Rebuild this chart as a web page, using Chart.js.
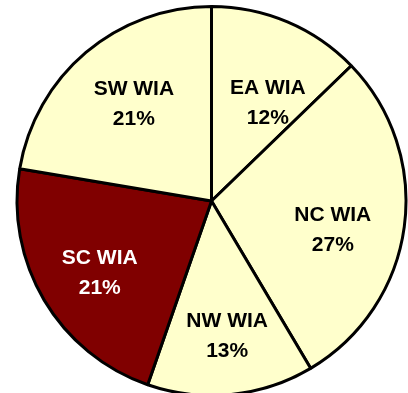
<!DOCTYPE html>
<html>
<head>
<meta charset="utf-8">
<script src="https://cdn.jsdelivr.net/npm/chart.js@4/dist/chart.umd.min.js"></script>
<style>
  html, body { margin: 0; padding: 0; background: #fff; }
  #wrap { width: 408px; height: 393px; }
</style>
</head>
<body>
<div id="wrap"><canvas id="pie"></canvas></div>
<script>
// Share of WIA by region (percent), clockwise from 12 o'clock
const regions = ['EA WIA', 'NC WIA', 'NW WIA', 'SC WIA', 'SW WIA'];
const shares = [12, 27, 13, 21, 21];

const sliceFill = ['#FFFFCC', '#FFFFCC', '#FFFFCC', '#800000', '#FFFFCC'];
const labelInk = ['#000', '#000', '#000', '#fff', '#000'];
// fine placement of each slice label relative to its mid-angle point
const labelNudge = [[7, 19], [-4, 12], [3, 9], [-3, 8], [4, 0]];

const sliceLabels = {
  id: 'sliceLabels',
  afterDatasetsDraw(chart) {
    const ctx = chart.ctx;
    const meta = chart.getDatasetMeta(0);
    ctx.save();
    ctx.font = 'bold 21px "Liberation Sans", Arial, Helvetica, sans-serif';
    ctx.textAlign = 'center';
    ctx.textBaseline = 'middle';
    meta.data.forEach((arc, i) => {
      const p = arc.getProps(['x', 'y', 'startAngle', 'endAngle', 'outerRadius'], true);
      const mid = (p.startAngle + p.endAngle) / 2;
      const r = p.outerRadius * 0.65;
      const x = p.x + Math.cos(mid) * r + labelNudge[i][0];
      const y = p.y + Math.sin(mid) * r + labelNudge[i][1];
      ctx.fillStyle = labelInk[i];
      ctx.fillText(regions[i], x, y - 15);
      ctx.fillText(shares[i] + '%', x, y + 15);
    });
    ctx.restore();
  }
};

new Chart(document.getElementById('pie'), {
  type: 'pie',
  data: {
    labels: regions,
    datasets: [{
      data: shares,
      backgroundColor: sliceFill,
      borderColor: '#000',
      borderWidth: 3
    }]
  },
  options: {
    responsive: true,
    maintainAspectRatio: false,
    animation: false,
    radius: 194.5,
    layout: { padding: { left: 15, right: 0, top: 9, bottom: 0 } },
    plugins: {
      legend: { display: false },
      tooltip: { enabled: false }
    }
  },
  plugins: [sliceLabels]
});
</script>
</body>
</html>
